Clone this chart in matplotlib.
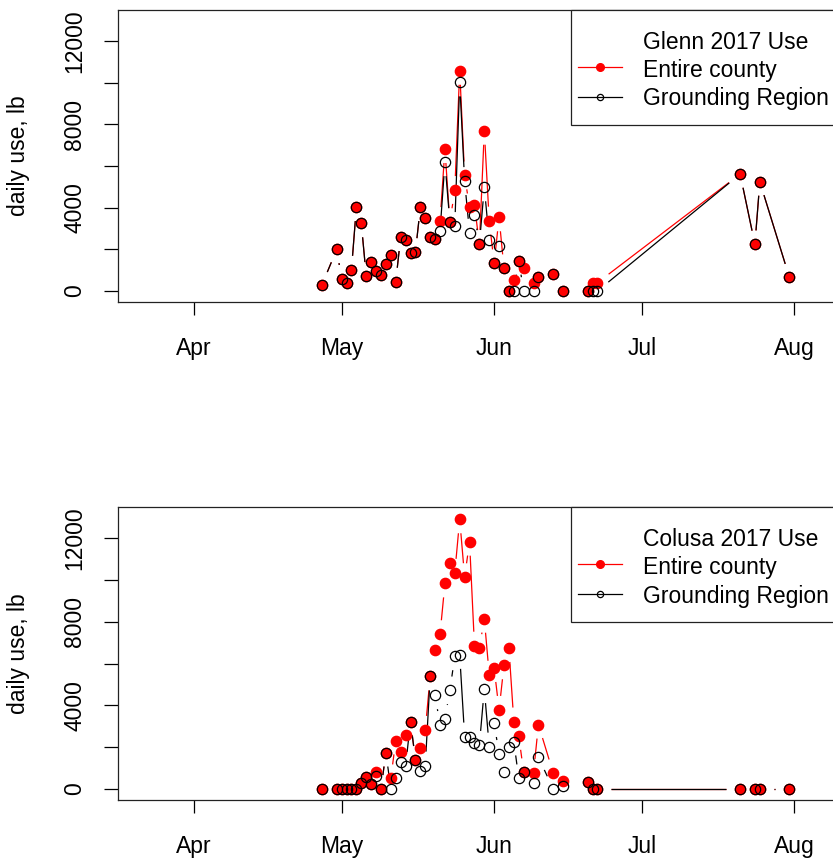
import numpy as np
import pandas as pd
import matplotlib
matplotlib.use("Agg")
import matplotlib.pyplot as plt
import matplotlib.dates as mdates
from matplotlib.patches import Rectangle
from matplotlib.lines import Line2D

plt.rcParams['font.family'] = ['Liberation Sans', 'DejaVu Sans']

# ---- data ----
glenn_dates = ["2017-04-27", "2017-04-30", "2017-05-01", "2017-05-02", "2017-05-03",
               "2017-05-04", "2017-05-05", "2017-05-06", "2017-05-07", "2017-05-08",
               "2017-05-09", "2017-05-10", "2017-05-11", "2017-05-12", "2017-05-13",
               "2017-05-14", "2017-05-15", "2017-05-16", "2017-05-17", "2017-05-18",
               "2017-05-19", "2017-05-20", "2017-05-21", "2017-05-22", "2017-05-23",
               "2017-05-24", "2017-05-25", "2017-05-26", "2017-05-27", "2017-05-28",
               "2017-05-29", "2017-05-30", "2017-05-31", "2017-06-01", "2017-06-02",
               "2017-06-03", "2017-06-04", "2017-06-05", "2017-06-06", "2017-06-07",
               "2017-06-09", "2017-06-10", "2017-06-13", "2017-06-15", "2017-06-20",
               "2017-06-21", "2017-06-22", "2017-07-21", "2017-07-24", "2017-07-25",
               "2017-07-31"]
glenn_county = [290, 2000, 590, 370, 1020, 4030, 3250, 720, 1380, 975,
                785, 1300, 1745, 450, 2590, 2430, 1820, 1870, 4030, 3520,
                2600, 2510, 3360, 6820, 3310, 4850, 10580, 5550, 4020, 4110,
                2260, 7700, 3380, 1330, 3540, 1090, 0, 530, 1450, 1090,
                400, 650, 800, 0, 0, 400, 400, 5620, 2240, 5250,
                660]
glenn_region = [290, 2000, 590, 370, 1020, 4030, 3250, 720, 1380, 975,
                785, 1300, 1745, 450, 2590, 2430, 1820, 1870, 4030, 3520,
                2600, 2510, 2880, 6190, 3310, 3120, 10020, 5280, 2800, 3660,
                2260, 4980, 2450, 1330, 2160, 1090, 0, 0, 1450, 0,
                0, 650, 800, 0, 0, 0, 0, 5620, 2240, 5250,
                660]

colusa_dates = ["2017-04-27", "2017-04-30", "2017-05-01", "2017-05-02", "2017-05-03",
                "2017-05-04", "2017-05-05", "2017-05-06", "2017-05-07", "2017-05-08",
                "2017-05-09", "2017-05-10", "2017-05-11", "2017-05-12", "2017-05-13",
                "2017-05-14", "2017-05-15", "2017-05-16", "2017-05-17", "2017-05-18",
                "2017-05-19", "2017-05-20", "2017-05-21", "2017-05-22", "2017-05-23",
                "2017-05-24", "2017-05-25", "2017-05-26", "2017-05-27", "2017-05-28",
                "2017-05-29", "2017-05-30", "2017-05-31", "2017-06-01", "2017-06-02",
                "2017-06-03", "2017-06-04", "2017-06-05", "2017-06-06", "2017-06-07",
                "2017-06-09", "2017-06-10", "2017-06-13", "2017-06-15", "2017-06-20",
                "2017-06-21", "2017-06-22", "2017-07-21", "2017-07-24", "2017-07-25",
                "2017-07-31"]
colusa_county = [0, 0, 0, 0, 0, 0, 300, 560, 225, 830,
                 0, 1740, 510, 2320, 1760, 2580, 3230, 1390, 1950, 2830,
                 5390, 6640, 7410, 9840, 10800, 10350, 12910, 10140, 11840, 6860,
                 6750, 8150, 5470, 5790, 3790, 5920, 6750, 3230, 2540, 800,
                 760, 3080, 770, 400, 350, 0, 0, 0, 0, 0,
                 0]
colusa_region = [0, 0, 0, 0, 0, 0, 300, 560, 225, 640,
                 0, 1740, 0, 510, 1310, 1100, 3230, 1390, 860, 1120,
                 5390, 4480, 3070, 3360, 4720, 6350, 6420, 2510, 2510, 2190,
                 2110, 4780, 2030, 3150, 1680, 800, 2030, 2270, 510, 800,
                 300, 1520, 0, 160, 350, 0, 0, 0, 0, 0,
                 0]

month_ticks = ["2017-04-01", "2017-05-01", "2017-06-01", "2017-07-01", "2017-08-01"]
month_labels = ["Apr", "May", "Jun", "Jul", "Aug"]
y_ticks = [0, 2000, 4000, 6000, 8000, 10000, 12000]
y_labels = ["0", "", "4000", "", "8000", "", "12000"]
legend_labels = ["Entire county", "Grounding Region"]

FS = 16.5
W, H = 833, 859
GAP = 14  # px, like R's type="b" gap around points


def gapped_line(ax, x, y, color):
    # segments between points, leaving a gap around each point (R type="b")
    pts = ax.transData.transform(np.column_stack([x, y]))
    inv = ax.transData.inverted()
    for p0, p1 in zip(pts[:-1], pts[1:]):
        d = p1 - p0
        dist = np.hypot(*d)
        if dist <= 2 * GAP:
            continue
        u = d / dist
        a = inv.transform(p0 + u * GAP)
        b = inv.transform(p1 - u * GAP)
        ax.plot([a[0], b[0]], [a[1], b[1]], color=color, lw=0.9,
                solid_capstyle='butt', zorder=2)


def fig_xy(px, py):
    return px / W, 1 - py / H


def r_legend(fig, top, title):
    # R-style legend box, drawn by hand (pixel layout)
    tf = fig.transFigure
    x0, y0 = fig_xy(571, top + 115)
    x1, y1 = fig_xy(842, top)
    fig.patches.append(Rectangle((x0, y0), x1 - x0, y1 - y0, transform=tf,
                                 facecolor='white', edgecolor='#222222', lw=0.9, zorder=5))
    fig.text(*fig_xy(643, top + 39), title, fontsize=FS, va='baseline', zorder=6)
    styles = [dict(color='red', marker='o', ms=5.5),
              dict(color='black', marker='o', ms=4.5, mfc='none', mew=0.9)]
    for i, (lab, st) in enumerate(zip(legend_labels, styles)):
        ly = top + 57 + i * 29.5
        xa, ya = fig_xy(578, ly)
        xb, _ = fig_xy(622, ly)
        fig.lines.append(Line2D([xa, xb], [ya, ya], transform=tf, lw=0.9,
                                markevery=[], color=st['color'], zorder=6))
        fig.lines.append(Line2D([(xa + xb) / 2], [ya], transform=tf, ls='none', zorder=7, **st))
        fig.text(*fig_xy(643, top + 67 + i * 28.5), lab, fontsize=FS, va='baseline', zorder=6)


def panel(fig, ax, dates, county, region, title, top):
    x = mdates.date2num(pd.to_datetime(dates))
    x0 = mdates.date2num(pd.Timestamp("2017-04-01"))
    ax.set_xlim(x0 - 15.45, x0 + 131.7)
    ax.set_ylim(-528, 13500)

    gapped_line(ax, x, county, 'red')
    ax.plot(x, county, 'o', ms=7.4, color='red', mec='red', zorder=3)
    gapped_line(ax, x, region, 'black')
    ax.plot(x, region, 'o', ms=7.4, mfc='none', mec='black', mew=0.9, zorder=4)

    ax.set_xticks(mdates.date2num(pd.to_datetime(month_ticks)))
    ax.set_xticklabels(month_labels)
    ax.set_yticks(y_ticks)
    ax.set_yticklabels(y_labels, rotation=90, va='center')
    ax.tick_params(axis='x', length=9.5, width=0.9, pad=16, labelsize=FS)
    ax.tick_params(axis='y', length=10, width=0.9, pad=13, labelsize=FS)
    for s in ax.spines.values():
        s.set_linewidth(0.9)
        s.set_color('#222222')
    ax.set_ylabel("daily use, lb", fontsize=FS, va='center', ha='center')
    ax.yaxis.set_label_coords(-0.137, 0.5)

    r_legend(fig, top, title)


fig = plt.figure(figsize=(W / 100, H / 100), dpi=100)
ax1 = fig.add_axes([118 / W, (H - 302) / H, (842 - 118) / W, (302 - 10) / H])
ax2 = fig.add_axes([118 / W, (H - 800) / H, (842 - 118) / W, (800 - 507) / H])

panel(fig, ax1, glenn_dates, glenn_county, glenn_region, "Glenn 2017 Use", 10)
panel(fig, ax2, colusa_dates, colusa_county, colusa_region, "Colusa 2017 Use", 507)

fig.savefig("out.png", dpi=100)
